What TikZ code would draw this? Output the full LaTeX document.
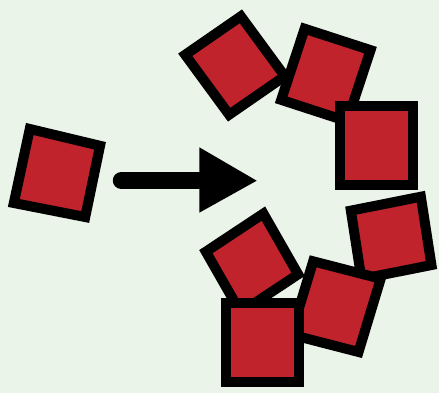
\documentclass[tikz,border=0pt]{standalone}
\usetikzlibrary{calc}
\definecolor{bgcol}{HTML}{EAF4E9}
\definecolor{tilered}{HTML}{C1232C}
\tikzset{
  tilebox/.style={fill=tilered, draw=black, line width=10pt, line join=miter},
  shaft/.style={draw=black, line width=17.5pt, line cap=round},
  headtip/.style={fill=black}
}
\newcommand\mytile[5]{%
  \coordinate (#1-a) at #2;
  \coordinate (#1-b) at #3;
  \coordinate (#1-c) at #4;
  \coordinate (#1-d) at #5;
  \coordinate (#1) at ($(#1-a)!0.5!(#1-c)$);
  \draw[tilebox] ($(#1-a)!7.07pt!(#1)$) -- ($(#1-b)!7.07pt!(#1)$) --
    ($(#1-c)!7.07pt!(#1)$) -- ($(#1-d)!7.07pt!(#1)$) -- cycle;
}
\begin{document}
\begin{tikzpicture}[x=1pt,y=-1pt]
\fill[bgcol] (0,0) rectangle (439,393);
\useasboundingbox (0,0) rectangle (439,393);
% upper cluster
\mytile{A}{(241.7,9.3)}{(291.7,77.7)}{(228.3,121.7)}{(178.3,53.3)}
\mytile{B}{(301.7,22.3)}{(376.7,46.7)}{(350,127.7)}{(275,103.3)}
\mytile{C}{(335,100.5)}{(418.3,100.5)}{(418.3,190)}{(335,190)}
% lower cluster
\mytile{G}{(345,206.7)}{(425,191)}{(437.3,269)}{(357.3,284.7)}
\mytile{F}{(310,255)}{(386.7,275)}{(361.7,358.3)}{(285,338.3)}
\mytile{D}{(265,206.7)}{(305,276)}{(239,319.3)}{(199,250)}
\mytile{E}{(221.7,297.3)}{(303.3,297.3)}{(303.3,387.3)}{(221.7,387.3)}
% single tile
\mytile{L}{(26,123)}{(106,142)}{(89,223)}{(8,207)}
% arrow
\coordinate (s) at (121.5,180.5);
\coordinate (hb) at (203,180.5);
\coordinate (ht) at (199.3,147.3);
\coordinate (tip) at (256.7,180.7);
\coordinate (hbot) at (199.3,212.7);
\draw[shaft] (s) -- (hb);
\fill[headtip] (ht) -- (tip) -- (hbot) -- cycle;
\end{tikzpicture}
\end{document}
